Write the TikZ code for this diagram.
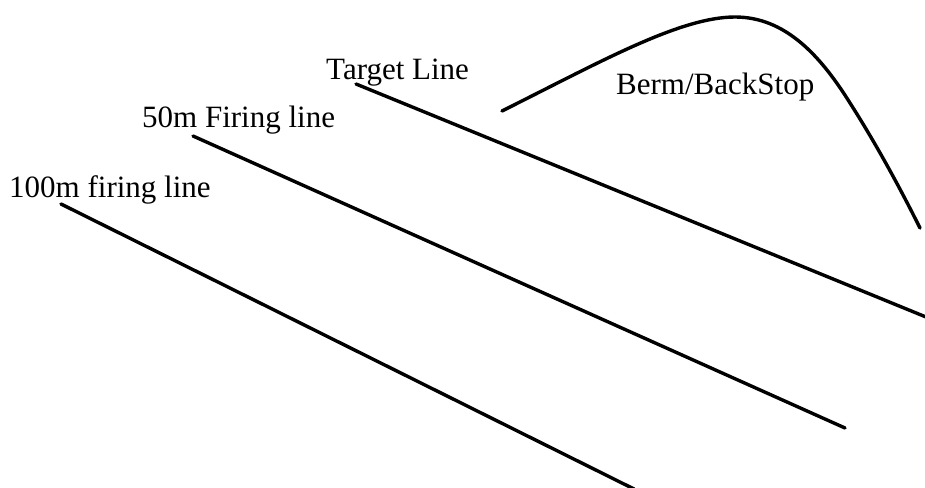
\documentclass[tikz,border=0pt]{standalone}
\usepackage{fontspec}
\setmainfont{Liberation Serif}
\begin{document}
\begin{tikzpicture}[x=1pt,y=-1pt,
  lbl/.style={anchor=base west,inner sep=0pt,font=\fontsize{31}{36}\selectfont},
  rangeline/.style={line width=3.4pt,line cap=round}]
\useasboundingbox (0,0) rectangle (925,487);
\node[lbl] (tl) at (326,79) {Target Line};
\node[lbl] (fl50) at (142,127) {50m Firing line};
\node[lbl] (fl100) at (9,197) {100m firing line};
\node[lbl] (berm) at (616,94) {Berm/BackStop};
\coordinate (t1) at (356,84);
\coordinate (t2) at (926,317);
\coordinate (f1) at (193,136);
\coordinate (f2) at (845,428);
\coordinate (h1) at (61,204);
\coordinate (h2) at (634,489);
\coordinate (b1) at (502,111);
\coordinate (bp) at (735,17);
\coordinate (bm) at (850,103);
\coordinate (b2) at (920,228);
\draw[rangeline] (b1) .. controls (600,62) and (680,17) .. (bp)
  .. controls (785,17) and (820,55) .. (bm)
  .. controls (880,150) and (905,198) .. (b2);
\draw[rangeline] (t1) -- (t2);
\draw[rangeline] (f1) -- (f2);
\draw[rangeline] (h1) -- (h2);
\end{tikzpicture}
\end{document}
